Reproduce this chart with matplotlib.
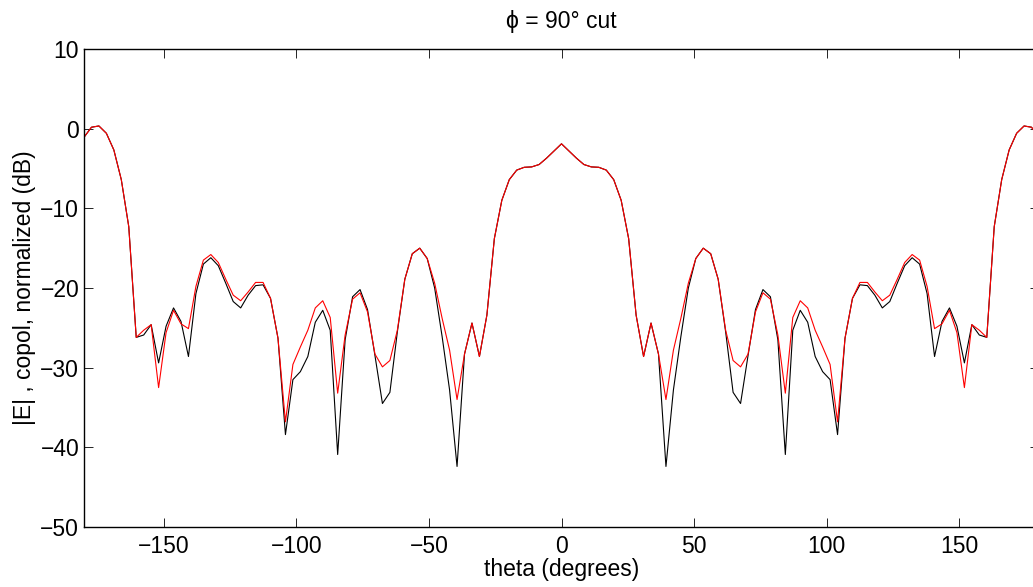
import numpy as np
import matplotlib
matplotlib.use("Agg")
import matplotlib.pyplot as plt

plt.rcParams['font.family'] = ['Liberation Sans', 'DejaVu Sans']

# sampling angles (deg), 129 samples over -180..180
theta = np.linspace(-180, 180, 129)

# copol |E| normalized (dB) - black trace
copol_black = [
    -1.08, 0.18, 0.34, -0.58, -2.67, -6.4, -12.3, -26.2, -25.9, -24.6,
    -29.4, -24.8, -22.5, -24.2, -28.6, -20.7, -17.0, -16.2, -17.2, -19.4,
    -21.7, -22.5, -20.9, -19.7, -19.6, -21.3, -26.3, -38.4, -31.5, -30.5,
    -28.6, -24.3, -22.8, -25.3, -40.9, -26.5, -21.1, -20.2, -22.7, -28.5,
    -34.5, -33.1, -25.5, -18.9, -15.7, -15.0, -16.3, -20.0, -26.1, -32.8,
    -42.4, -28.3, -24.4, -28.6, -23.4, -13.8, -9.0, -6.4, -5.2, -4.85,
    -4.8, -4.5, -3.7, -2.8, -1.9,
    -2.8, -3.7, -4.5, -4.8, -4.85, -5.2, -6.4, -9.0, -13.8, -23.4,
    -28.6, -24.4, -28.3, -42.4, -32.8, -26.1, -20.0, -16.3, -15.0, -15.7,
    -18.9, -25.5, -33.1, -34.5, -28.5, -22.7, -20.2, -21.1, -26.5, -40.9,
    -25.3, -22.8, -24.3, -28.6, -30.5, -31.5, -38.4, -26.3, -21.3, -19.6,
    -19.7, -20.9, -22.5, -21.7, -19.4, -17.2, -16.2, -17.0, -20.7, -28.6,
    -24.2, -22.5, -24.8, -29.4, -24.6, -25.9, -26.2, -12.3, -6.4, -2.67,
    -0.58, 0.34, 0.18, -1.08,
]

# copol |E| normalized (dB) - red trace
copol_red = [
    -1.08, 0.18, 0.34, -0.58, -2.67, -6.4, -12.3, -26.2, -25.3, -24.6,
    -32.5, -25.6, -22.8, -24.5, -25.1, -19.8, -16.5, -15.8, -16.8, -18.9,
    -20.9, -21.6, -20.5, -19.3, -19.3, -21.3, -26.3, -36.8, -29.6, -27.4,
    -25.3, -22.5, -21.6, -23.7, -33.2, -25.9, -21.4, -20.6, -23.0, -28.3,
    -29.9, -29.1, -25.3, -18.9, -15.7, -15.0, -16.3, -19.4, -23.8, -27.8,
    -34.0, -28.3, -24.4, -28.6, -23.4, -13.8, -9.0, -6.4, -5.2, -4.85,
    -4.8, -4.5, -3.7, -2.8, -1.9,
    -2.8, -3.7, -4.5, -4.8, -4.85, -5.2, -6.4, -9.0, -13.8, -23.4,
    -28.6, -24.4, -28.3, -34.0, -27.8, -23.8, -19.4, -16.3, -15.0, -15.7,
    -18.9, -25.3, -29.1, -29.9, -28.3, -23.0, -20.6, -21.4, -25.9, -33.2,
    -23.7, -21.6, -22.5, -25.3, -27.4, -29.6, -36.8, -26.3, -21.3, -19.3,
    -19.3, -20.5, -21.6, -20.9, -18.9, -16.8, -15.8, -16.5, -19.8, -25.1,
    -24.5, -22.8, -25.6, -32.5, -24.6, -25.3, -26.2, -12.3, -6.4, -2.67,
    -0.58, 0.34, 0.18, -1.08,
]

xticks = [-150, -100, -50, 0, 50, 100, 150]
yticks = [-50, -40, -30, -20, -10, 0, 10]

W, H = 1033, 587
fig = plt.figure(figsize=(W / 100, H / 100), dpi=100)
ax_left, ax_right, ax_top, ax_bottom = 84, 1039, 49, 527
ax = fig.add_axes([ax_left / W, (H - ax_bottom) / H,
                   (ax_right - ax_left) / W, (ax_bottom - ax_top) / H])

ax.plot(theta, copol_black, color='black', lw=0.8)
ax.plot(theta, copol_red, color='red', lw=0.8)

ax.set_xlim(-180, 180)
ax.set_ylim(-50, 10)
ax.set_xticks(xticks)
ax.set_yticks(yticks)
ax.tick_params(direction='in', length=6.5, width=0.6, top=True, right=True,
               labelsize=16.5)
ax.tick_params(axis='y', pad=3.5)
ax.tick_params(axis='x', pad=6)
for s in ax.spines.values():
    s.set_linewidth(1.0)

ax.set_xlabel('theta (degrees)', fontsize=16.5, labelpad=0)
ax.set_ylabel('|E| , copol, normalized (dB)', fontsize=16.5, labelpad=3)
ax.set_title('\u03d5 = 90\u00b0 cut', fontsize=16.5, pad=15)

fig.savefig('out.png', dpi=100)
